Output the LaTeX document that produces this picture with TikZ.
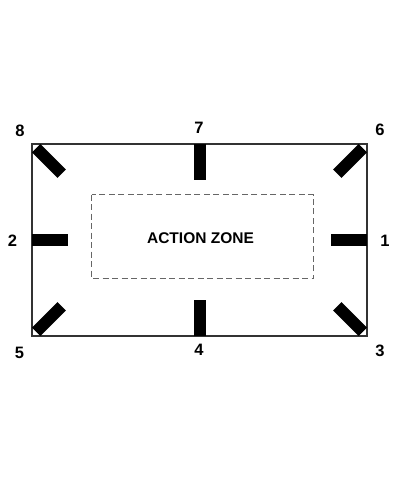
\documentclass[tikz,border=0pt]{standalone}
\usepackage{fontspec}
\setmainfont{Liberation Sans}
\begin{document}
\begin{tikzpicture}[x=1pt,y=-1pt,
  lbl/.style={font=\fontsize{16.5}{19}\selectfont\bfseries, inner sep=0pt},
  zlbl/.style={font=\fontsize{15.5}{18}\selectfont\bfseries, inner sep=0pt},
  bar/.style={line width=12pt, line cap=butt, black},
  frame/.style={draw=black!80, line width=1.1pt},
  zone/.style={draw=black!60, line width=1.1pt, dash pattern=on 6pt off 3.5pt}]
\useasboundingbox (0,0) rectangle (400,480);
\fill[white] (0,0) rectangle (400,480);
% outer field
\draw[frame] (32,144) rectangle (367,336);
% action zone
\draw[zone] (91.5,194.5) rectangle (313.5,278.5);
\node[zlbl] (az) at (200.5,238) {ACTION ZONE};
% straight bars
\coordinate (b7a) at (199.5,144); \coordinate (b7b) at (199.5,180);
\coordinate (b4a) at (199.5,336); \coordinate (b4b) at (199.5,300);
\coordinate (b2a) at (32,240);    \coordinate (b2b) at (68,240);
\coordinate (b1a) at (367,240);   \coordinate (b1b) at (331,240);
\draw[bar] (b7a) -- (b7b);
\draw[bar] (b4a) -- (b4b);
\draw[bar] (b2a) -- (b2b);
\draw[bar] (b1a) -- (b1b);
% diagonal bars
\coordinate (b8a) at (36.2,148.2);  \coordinate (b8b) at (61.7,173.7);
\coordinate (b6a) at (362.8,148.2); \coordinate (b6b) at (337.3,173.7);
\coordinate (b5a) at (36.2,331.8);  \coordinate (b5b) at (61.7,306.3);
\coordinate (b3a) at (362.8,331.8); \coordinate (b3b) at (337.3,306.3);
\draw[bar] (b8a) -- (b8b);
\draw[bar] (b6a) -- (b6b);
\draw[bar] (b5a) -- (b5b);
\draw[bar] (b3a) -- (b3b);
% labels
\node[lbl] (n8) at (20,130.5) {8};
\node[lbl] (n7) at (199,127.5) {7};
\node[lbl] (n6) at (380,130) {6};
\node[lbl] (n2) at (12.5,241) {2};
\node[lbl] (n1) at (385,241) {1};
\node[lbl] (n5) at (19.5,353) {5};
\node[lbl] (n4) at (199,350) {4};
\node[lbl] (n3) at (380,351) {3};
\end{tikzpicture}
\end{document}
